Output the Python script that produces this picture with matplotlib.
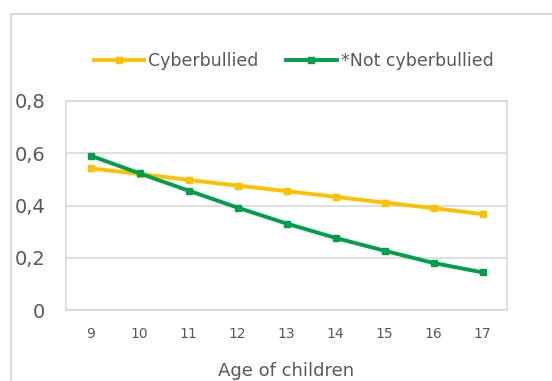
import matplotlib.pyplot as plt
import matplotlib.patches
from matplotlib.ticker import FuncFormatter

ages = [9, 10, 11, 12, 13, 14, 15, 16, 17]
cyberbullied = [0.542, 0.521, 0.498, 0.476, 0.455, 0.433, 0.411, 0.390, 0.367]
not_cyberbullied = [0.591, 0.523, 0.457, 0.392, 0.331, 0.276, 0.227, 0.180, 0.144]

W, H = 552, 381
fig = plt.figure(figsize=(W / 100, H / 100), dpi=100)
plt.rcParams['font.family'] = 'DejaVu Sans'

grey = '#d9d9d9'
txt = '#595959'

# outer chart border (cropped on right and bottom)
fig.patches.append(matplotlib.patches.Rectangle(
    (11 / W, -0.1), 1.2, 1 - 14 / H + 0.1, transform=fig.transFigure,
    fill=False, edgecolor=grey, linewidth=1.5))

ax = fig.add_axes([66 / W, 1 - 310 / H, (507 - 66) / W, (310 - 101) / H])
x = list(range(len(ages)))
ax.plot(x, cyberbullied, color='#FFC000', lw=2.8, marker='s', ms=3.8, label='Cyberbullied')
ax.plot(x, not_cyberbullied, color='#00A04A', lw=2.8, marker='s', ms=3.8, label='*Not cyberbullied')

ax.set_xlim(-0.5, len(ages) - 0.5)
ax.set_ylim(0, 0.8)
ax.set_yticks([0, 0.2, 0.4, 0.6, 0.8])
ax.yaxis.set_major_formatter(FuncFormatter(lambda v, p: '0' if v == 0 else f'{v:.1f}'.replace('.', ',')))
ax.set_xticks(x)
ax.set_xticklabels([str(a) for a in ages])
ax.tick_params(axis='y', length=0, pad=15, labelsize=14, labelcolor=txt)
ax.tick_params(axis='x', length=0, pad=12, labelsize=10, labelcolor=txt)
ax.grid(axis='y', color=grey, lw=1.2)
ax.set_axisbelow(True)
for s in ax.spines.values():
    s.set_color(grey)
    s.set_linewidth(1.2)

ax.set_xlabel('Age of children', fontsize=13, color=txt, labelpad=15)

ax.legend(loc='lower center', bbox_to_anchor=(0.516, 1.075), ncol=2, frameon=False,
          fontsize=12.5, labelcolor=txt, handlelength=2.9, handletextpad=0.23,
          columnspacing=1.6, markerscale=1)

plt.savefig('out.png', dpi=100)
